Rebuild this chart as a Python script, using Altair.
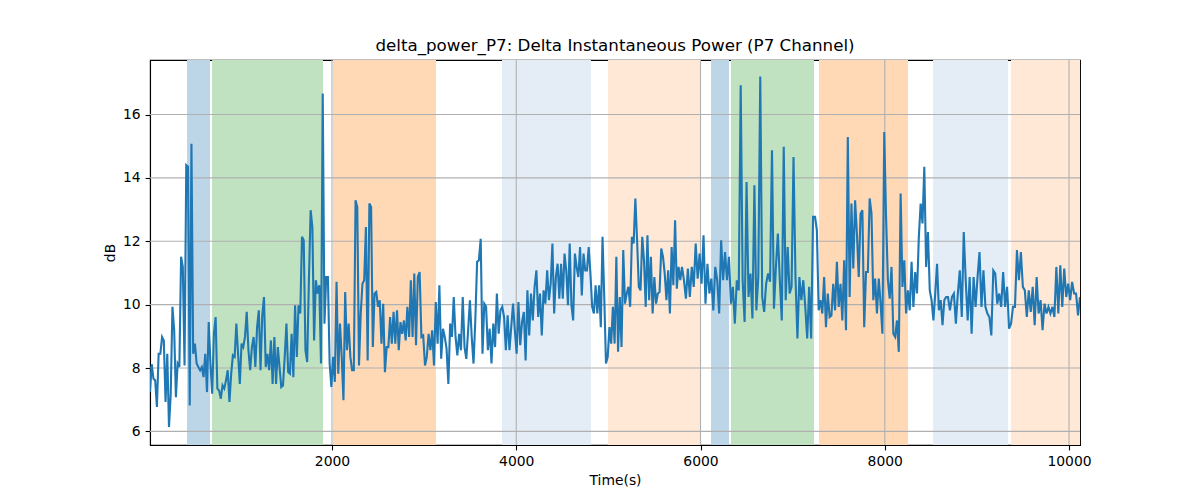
import altair as alt
import numpy as np
import pandas as pd

# --- line series, one list per stretch of time ---
seg_bounds = [24.5, 1468, 2912, 4355, 5799, 7243, 8686, 10119]

seg1 = [7.24, 8.12, 7.66, 7.61, 6.77, 8.45, 8.45, 8.98, 8.87, 6.93, 8.45, 6.14, 7.19, 9.93, 9.19,
        7.08, 8.14, 8.03, 11.51, 11.19, 8.08, 14.4, 14.35, 6.82, 15.08, 8.45, 8.77, 8.14, 8.03, 7.93,
        8.03, 7.71, 8.45, 7.24, 9.45, 8.14, 7.19, 9.08, 9.61, 7.35, 7.29, 7.03, 7.45, 7.35, 7.61,
        7.93, 6.93, 7.82, 8.4, 8.35, 9.4, 8.45, 7.5, 8.77, 8.66, 8.98, 9.77, 8.56, 7.93, 8.66,
        8.98, 8.03, 9.29, 9.82, 7.93, 9.66, 10.24, 8.03, 8.45, 7.93, 8.87, 7.5, 8.98, 7.5, 8.66,
        8.03, 7.4]
seg2 = [7.45, 8.35, 9.4, 7.87, 7.82, 9.08, 7.71, 9.98, 8.35, 9.98, 9.72, 12.14, 12.03,
        8.56, 8.19, 10.77, 12.98, 12.45, 8.87, 10.77, 10.35, 10.61, 8.14, 16.66, 9.4, 10.87, 10.87,
        8.14, 7.4, 8.35, 7.56, 10.72, 7.82, 9.4, 8.35, 6.98, 10.4, 8.56, 9.4, 8.35, 7.93, 7.93,
        13.29, 13.08, 8.08, 9.72, 10.66, 10.77, 12.45, 8.24, 13.19, 13.08, 8.66, 10.35, 10.4, 9.93, 10.14,
        8.77, 10.03, 7.87, 8.66, 8.66, 9.61, 8.77, 9.77, 8.77, 9.82, 8.56, 9.45, 9.08, 9.5, 8.87,
        9.93, 8.98, 10.77, 8.98, 10.98]
seg3 = [8.72, 10.87, 11.03, 8.98, 9.03, 8.08, 8.35, 9.08, 8.56, 9.19, 8.08, 10.08, 8.77, 10.61, 8.29,
        9.24, 8.98, 8.61, 7.5, 9.4, 8.98, 10.24, 8.98, 8.4, 9.08, 8.56, 10.24, 8.66, 8.29, 9.19,
        10.14, 8.98, 8.14, 9.5, 11.35, 11.4, 12.08, 8.45, 10.03, 9.93, 8.56, 9.24, 8.14, 9.4, 8.66,
        10.35, 9.08, 9.82, 9.93, 9.61, 8.56, 9.66, 8.56, 9.29, 10.03, 9.19, 8.45, 10.08, 8.72, 9.45,
        9.77, 8.24, 10.45, 9.03, 10.35, 9.5, 10.56, 11.08, 9.61, 10.35, 9.03, 10.45, 10.03, 11.08]
seg4 = [10.14, 10.66, 11.93, 9.72, 10.87, 11.29, 10.19, 11.29, 10.19, 11.61, 11.08, 9.98, 11.93, 9.98, 9.5,
        11.61, 11.19, 10.87, 11.82, 10.29, 11.61, 11.08, 11.08, 11.82, 10.98, 9.93, 9.72, 10.61, 9.72, 10.61,
        9.29, 12.14, 10.24, 8.14, 8.35, 9.29, 8.77, 9.93, 8.77, 11.51, 8.51, 10.24, 8.66, 11.72, 10.03,
        10.35, 10.56, 9.93, 12.14, 11.93, 13.35, 12.03, 10.56, 10.45, 12.14, 11.4, 9.93, 12.19, 10.14, 11.51,
        9.72, 10.87, 10.03, 10.35, 10.4, 11.77, 11.51, 10.98, 10.14, 11.08, 9.72, 11.82, 10.61, 12.66, 10.5,
        11.19, 10.77]
seg5 = [11.19, 10.77, 10.19, 11.14, 10.24, 11.19, 10.56, 11.93, 10.82, 11.61, 10.66, 12.19, 10.03, 11.29, 10.35,
        10.82, 9.82, 11.19, 10.77, 9.72, 12.03, 10.77, 11.66, 10.77, 11.51, 10.03, 10.56, 9.4, 10.77, 10.45,
        16.92, 10.77, 9.45, 13.87, 10.24, 10.98, 9.56, 13.77, 9.82, 10.87, 17.2, 10.24, 9.77, 10.66, 10.98,
        10.72, 14.87, 9.87, 11.19, 12.24, 10.77, 9.5, 14.98, 10.14, 11.82, 10.35, 10.56, 14.66, 10.87, 8.93,
        10.87, 10.14, 10.77, 9.93, 8.93, 10.56, 8.93, 12.77]
seg6 = [12.77, 12.35, 9.82, 10.14, 9.72, 10.87, 9.29, 10.35, 9.61, 9.66, 10.66, 9.82, 11.35, 9.93, 10.66,
        9.5, 11.4, 9.19, 15.29, 10.24, 13.19, 11.14, 13.29, 12.24, 10.87, 12.87, 12.98, 9.29, 11.03, 11.03,
        13.35, 12.87, 10.14, 10.82, 9.72, 10.82, 10.03, 9.08, 15.45, 12.77, 10.77, 10.19, 11.19, 9.08,
        8.98, 9.5, 8.51, 13.51, 10.56, 11.4, 9.72, 10.45, 9.82, 11.35, 9.93, 11.03, 10.35, 12.14,
        13.19, 12.56, 14.35, 11.19, 12.29, 10.45, 10.14, 9.5, 10.35, 11.29, 9.82, 10.14, 9.35, 10.14,
        10.24]
seg7 = [10.24, 9.82, 10.24, 10.35, 9.4, 10.35, 11.08, 9.61, 12.29, 10.77, 9.5, 10.87, 9.08, 10.87, 9.93,
        10.87, 11.66, 9.93, 11.08, 9.93, 9.72, 9.61, 9.03, 11.08, 10.98, 10.03, 10.35, 9.93, 11.03, 9.93,
        10.56, 9.24, 9.4, 9.93, 9.93, 11.72, 10.77, 11.66, 10.56, 10.45, 9.61, 10.45, 9.77, 10.56, 9.35,
        10.87, 9.72, 10.14, 9.19, 10.03, 9.72, 9.93, 9.72, 9.93, 9.61, 11.19, 9.72, 11.24, 9.93, 11.14,
        10.24, 10.66, 10.14, 10.72, 10.35, 10.35, 9.66, 10.24]

segments = [seg1, seg2, seg3, seg4, seg5, seg6, seg7]
times, values = [], []
for i, seg in enumerate(segments):
    last = i == len(segments) - 1
    ts = np.linspace(seg_bounds[i], seg_bounds[i + 1], len(seg), endpoint=last)
    times.extend(ts.tolist())
    values.extend(seg)
line_df = pd.DataFrame({"t": times, "v": values})

# --- shaded spans ---
span_start = [426, 698, 2011, 3845, 4996, 6114, 6331, 7286, 8524, 9370]
span_end = [676, 1902, 3129, 4811, 6005, 6309, 7232, 8252, 9338, 10119]
span_color = ["#bcd6e8", "#c0e2c0", "#ffd8b6", "#e4edf6", "#ffe9d6",
              "#bcd6e8", "#c0e2c0", "#ffd8b6", "#e4edf6", "#ffe9d6"]
span_df = pd.DataFrame({"start": span_start, "end": span_end, "color": span_color})

# --- ticks / grid ---
x_ticks = [2000, 4000, 6000, 8000, 10000]
y_ticks = [6, 8, 10, 12, 14, 16]
xgrid_df = pd.DataFrame({"gx": x_ticks})
ygrid_df = pd.DataFrame({"gy": y_ticks})

x_domain = [24.5, 10119]
y_domain = [5.57, 17.72]

xscale = alt.Scale(domain=x_domain, nice=False, zero=False)
yscale = alt.Scale(domain=y_domain, nice=False, zero=False)
xaxis = alt.Axis(values=x_ticks, grid=False, title="Time(s)", format="d",
                 labelFlush=False, labelOverlap=False, titlePadding=5)
yaxis = alt.Axis(values=y_ticks, grid=False, title="dB", format="d",
                 labelOverlap=False, titlePadding=5)

rect = alt.Chart(span_df).mark_rect().encode(
    x=alt.X("start:Q", scale=xscale, axis=xaxis),
    x2="end:Q",
    color=alt.Color("color:N", scale=None),
)
xgrid = alt.Chart(xgrid_df).mark_rule(color="#b0b0b0", strokeWidth=1.1).encode(
    x=alt.X("gx:Q", scale=xscale, axis=xaxis)
)
ygrid = alt.Chart(ygrid_df).mark_rule(color="#b0b0b0", strokeWidth=1.1).encode(
    y=alt.Y("gy:Q", scale=yscale, axis=yaxis)
)
line = alt.Chart(line_df).mark_line(color="#1f77b4", strokeWidth=2.1, clip=True).encode(
    x=alt.X("t:Q", scale=xscale, axis=xaxis),
    y=alt.Y("v:Q", scale=yscale, axis=yaxis),
)

chart = alt.layer(rect, xgrid, ygrid, line).properties(
    width=930,
    height=385,
    title=alt.TitleParams(
        text="delta_power_P7: Delta Instantaneous Power (P7 Channel)",
        fontSize=16.7, font="DejaVu Sans", fontWeight="normal",
        anchor="middle", offset=5, color="black",
    ),
    padding={"left": 142, "top": 52, "right": 112, "bottom": 48},
    autosize=alt.AutoSizeParams(type="none"),
).configure_axis(
    domainColor="black", tickColor="black", labelColor="black", titleColor="black",
    labelFont="DejaVu Sans", titleFont="DejaVu Sans",
    labelFontSize=13.9, titleFontSize=13.9, titleFontWeight="normal",
    tickSize=4.9, tickWidth=1.1, domainWidth=1.1, labelPadding=4.9,
).configure_view(stroke="black", strokeWidth=1.1)

chart.save("out.html", embed_options={"renderer": "svg", "actions": False})
